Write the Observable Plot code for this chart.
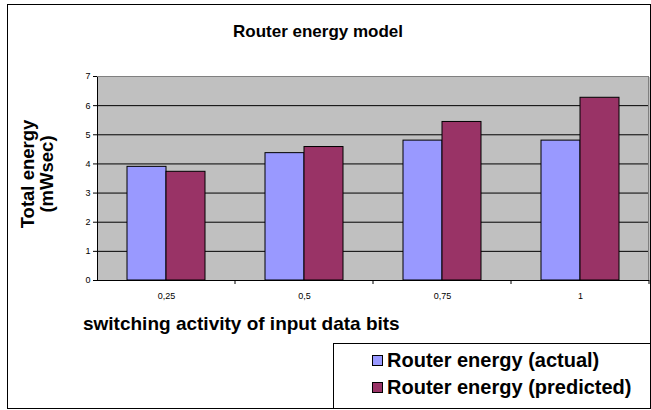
<!DOCTYPE html>
<html>
<head>
<meta charset="utf-8">
<script src="https://cdn.jsdelivr.net/npm/d3@7"></script>
<script src="https://cdn.jsdelivr.net/npm/@observablehq/plot@0.6"></script>
<style>
  html, body { margin: 0; padding: 0; background: #fff; }
  #wrap { position: relative; width: 651px; height: 410px; overflow: hidden; font-family: "Liberation Sans", Arial, sans-serif; }
  #wrap svg { position: absolute; left: 0; top: 0; }
  .border { position: absolute; left: 7px; top: 4px; width: 642px; height: 403px; border: 1px solid #000; }
  .title { position: absolute; left: 0; width: 636px; top: 22px; text-align: center; font-size: 17px; font-weight: bold; color: #000; }
  .ytitle { position: absolute; left: 37px; top: 174px; transform: translate(-50%, -50%) rotate(-90deg); text-align: center; font-size: 18.5px; font-weight: bold; line-height: 19px; white-space: nowrap; color: #000; }
  .xtitle { position: absolute; left: 83px; top: 313px; font-size: 19px; font-weight: bold; white-space: nowrap; color: #000; line-height: 22px; }
  .legend { position: absolute; left: 333px; top: 343px; width: 316px; height: 64px; border: 1px solid #000; background: #fff; }
  .item { position: absolute; left: 38px; font-size: 20px; font-weight: bold; white-space: nowrap; color: #000; line-height: 22px; }
  .sw { display: inline-block; width: 9px; height: 9px; border: 1px solid #000; margin-right: 4px; vertical-align: 1px; }
</style>
</head>
<body>
<div id="wrap">
  <div class="border"></div>
</div>
<script>
const categories = ["0,25", "0,5", "0,75", "1"];
const seriesNames = ["Router energy (actual)", "Router energy (predicted)"];
const actualValues = [3.9, 4.37, 4.8, 4.8];
const predictedValues = [3.73, 4.58, 5.44, 6.27];
const seriesColors = ["#9999FF", "#993366"];
const yTicks = [0, 1, 2, 3, 4, 5, 6, 7];
const titleText = "Router energy model";
const yTitleLines = ["Total energy", "(mWsec)"];
const xTitleText = "switching activity of input data bits";

const rows = [];
categories.forEach((c, i) => {
  rows.push({cat: c, series: seriesNames[0], value: actualValues[i]});
  rows.push({cat: c, series: seriesNames[1], value: predictedValues[i]});
});

const chart = Plot.plot({
  width: 651,
  height: 410,
  marginLeft: 96,
  marginRight: 2,
  marginTop: 76,
  marginBottom: 130,
  style: {fontFamily: "'Liberation Sans', Arial, sans-serif", fontSize: "9px", color: "#000", background: "transparent"},
  fx: {domain: categories, padding: 0, label: null, tickSize: 0, tickPadding: 12, axis: "bottom"},
  x: {domain: seriesNames, axis: null, paddingInner: 0, paddingOuter: 0.73},
  y: {domain: [0, 7], ticks: yTicks, tickSize: 4, tickPadding: 3, label: null, line: true, tickFormat: d => String(d)},
  color: {domain: seriesNames, range: seriesColors},
  marks: [
    Plot.frame({fill: "#C0C0C0", stroke: null, shapeRendering: "crispEdges"}),
    Plot.ruleY(yTicks.filter(t => t > 0 && t < 7), {stroke: "#000", strokeWidth: 1}),
    Plot.ruleY([7], {stroke: "#808080", strokeWidth: 1}),
    Plot.barY(rows, {fx: "cat", x: "series", y: "value", fill: "series", stroke: "#000", strokeWidth: 1}),
    Plot.ruleY([0], {stroke: "#000", strokeWidth: 1})
  ]
});

// boundary ticks between category groups and right edge of plot area, from Plot's scales
const fx = chart.scale("fx");
const ys = chart.scale("y");
const svg = d3.select(chart);
const y0 = ys.apply(0), y7 = ys.apply(7);
const bounds = categories.slice(1).map(c => fx.apply(c));
const rightEdge = fx.apply(categories[categories.length - 1]) + fx.bandwidth;
bounds.push(rightEdge);
svg.append("g").selectAll("line").data(bounds).join("line")
  .attr("x1", d => d).attr("x2", d => d)
  .attr("y1", y0).attr("y2", y0 + 4)
  .attr("stroke", "#000");
svg.append("line")
  .attr("x1", rightEdge - 0.5).attr("x2", rightEdge - 0.5)
  .attr("y1", y7).attr("y2", y0)
  .attr("stroke", "#808080");

const wrap = document.getElementById("wrap");
wrap.appendChild(chart);

const t = document.createElement("div");
t.className = "title"; t.textContent = titleText; wrap.appendChild(t);

const yt = document.createElement("div");
yt.className = "ytitle"; yt.innerHTML = yTitleLines.map(s => `<div>${s}</div>`).join("");
wrap.appendChild(yt);

const xt = document.createElement("div");
xt.className = "xtitle"; xt.textContent = xTitleText; wrap.appendChild(xt);

const lg = document.createElement("div");
lg.className = "legend";
seriesNames.forEach((name, i) => {
  const it = document.createElement("div");
  it.className = "item";
  it.style.top = (5 + i * 27) + "px";
  it.innerHTML = `<span class="sw" style="background:${seriesColors[i]}"></span>${name}`;
  lg.appendChild(it);
});
wrap.appendChild(lg);
</script>
</body>
</html>
